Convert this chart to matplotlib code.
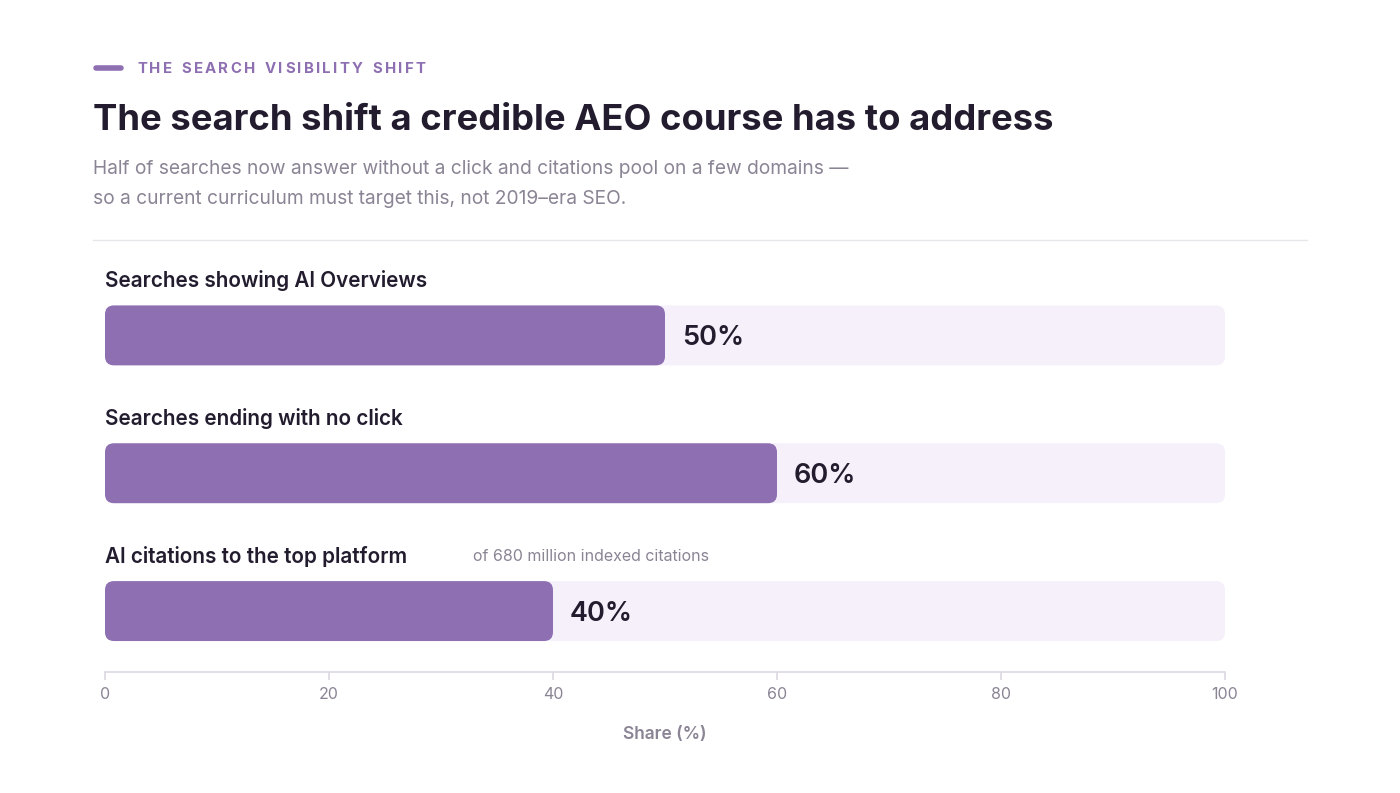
import matplotlib
matplotlib.use("Agg")
import matplotlib.pyplot as plt
from matplotlib.patches import FancyBboxPatch

# data
categories = ["Searches showing AI Overviews", "Searches ending with no click", "AI citations to the top platform"]
values = [50, 60, 40]
notes = ["", "", "of 680 million indexed citations"]
xticks = [0, 20, 40, 60, 80, 100]

eyebrow = "THE SEARCH VISIBILITY SHIFT"
title = "The search shift a credible AEO course has to address"
subtitle = ("Half of searches now answer without a click and citations pool on a few domains \u2014\n"
            "so a current curriculum must target this, not 2019\u2013era SEO.")

PURPLE = "#8e6fb2"
TRACK = "#f5f0fa"
DARK = "#221c2e"
GRAY = "#8a8494"
LINE = "#dcd9e0"

plt.rcParams['font.family'] = ['Inter', 'DejaVu Sans']

W, H = 1400, 793
fig = plt.figure(figsize=(W / 100, H / 100), dpi=100)
fig.patch.set_facecolor("white")


def fx(px):
    return px / W


def fy(py):
    return 1 - py / H


# header
fig.add_artist(plt.Line2D([fx(96), fx(121)], [fy(68), fy(68)], color=PURPLE, lw=4,
                          solid_capstyle="round"))
renderer = fig.canvas.get_renderer()
x = 137
for ch in eyebrow:
    t = fig.text(fx(x), fy(69), ch, fontsize=10.8, fontweight="bold", color=PURPLE,
                 va="center", ha="left")
    if ch == " ":
        w = 5
    else:
        w = t.get_window_extent(renderer).width
    x += w + 2.3

fig.text(fx(93), fy(121), title, fontsize=26.2, fontweight="bold", color=DARK,
         va="center", ha="left")
fig.text(fx(93), fy(184), subtitle, fontsize=13.8, color=GRAY, va="center", ha="left",
         linespacing=1.9)
fig.add_artist(plt.Line2D([fx(93), fx(1307)], [fy(240), fy(240)], color="#e8e6ea", lw=1))

# chart area
ax = fig.add_axes([fx(105), fy(672), fx(1225) - fx(105), (672 - 240) / H])
ax.set_xlim(0, 100)
ax.set_ylim(2.442, -0.692)

bar_h = 60 / 138
px_x = 100 / 1120
px_y = 1 / 138
aspect = px_y / px_x
r = 9 * px_x

for i, (cat, val, note) in enumerate(zip(categories, values, notes)):
    ax.add_patch(FancyBboxPatch((0, i - bar_h / 2), 100, bar_h,
                                boxstyle=f"round,pad=0,rounding_size={r}",
                                mutation_aspect=aspect, fc=TRACK, ec="none"))
    ax.add_patch(FancyBboxPatch((0, i - bar_h / 2), val, bar_h,
                                boxstyle=f"round,pad=0,rounding_size={r}",
                                mutation_aspect=aspect, fc=PURPLE, ec="none"))
    ax.text(0, i - 55 * px_y, cat, fontsize=14.9, fontweight="semibold", color=DARK,
            va="center", ha="left")
    if note:
        ax.text(32.86, i - 55 * px_y, note, fontsize=11.5, color=GRAY,
                va="center", ha="left")
    ax.text(val + 17 * px_x, i + 2.5 * px_y, f"{val}%", fontsize=19.5, fontweight="semibold",
            color=DARK, va="center", ha="left")

for s in ["top", "left", "right"]:
    ax.spines[s].set_visible(False)
ax.spines["bottom"].set_color(LINE)
ax.spines["bottom"].set_linewidth(1.2)
ax.set_yticks([])
ax.set_xticks(xticks)
ax.tick_params(axis="x", colors=LINE, length=6, width=1.2, pad=5, labelsize=11.5,
               labelcolor=GRAY)
ax.set_xlabel("Share (%)", fontsize=12.5, fontweight="semibold", color=GRAY, labelpad=17)
ax.set_facecolor("none")

fig.savefig("out.png", dpi=100, facecolor="white")
